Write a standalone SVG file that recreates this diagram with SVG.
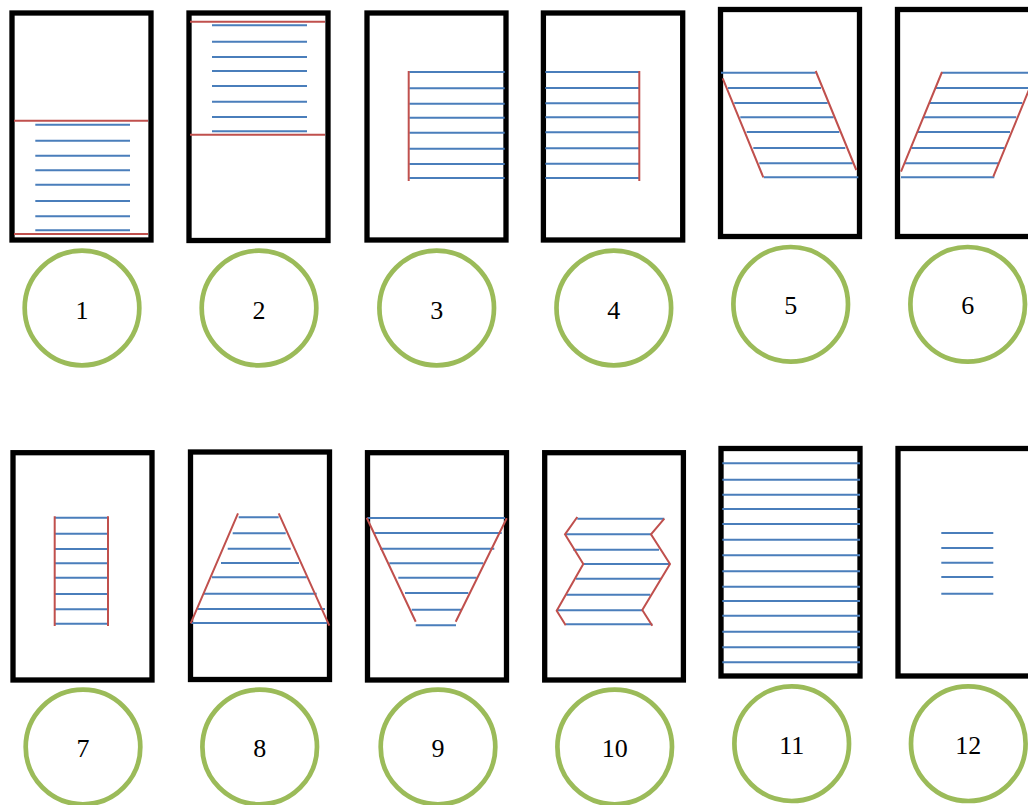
<svg xmlns="http://www.w3.org/2000/svg" width="1028" height="805" viewBox="0 0 1028 805">
<style>
.frame{fill:none;stroke:#000;stroke-width:5.3}
.b{stroke:#4a7ebb;stroke-width:2;fill:none}
.r{stroke:#c0504d;stroke-width:2;fill:none}
.c{fill:none;stroke:#9bbb59;stroke-width:4.7}
.t{font-family:"Liberation Serif","Times New Roman",serif;font-size:26px;text-anchor:middle;fill:#000}
</style>
<rect width="1028" height="805" fill="#fff"/>
<g id="connectors"/>

<g id="node-1">
<rect class="frame" x="12" y="13" width="139" height="227"/>
<path class="b" d="M35.3 124.7H130M35.3 140.7H130M35.3 155.7H130M35.3 170.3H130M35.3 184.7H130M35.3 201H130M35.3 216.3H130M35.3 230.3H130"/>
<path class="r" d="M14 120.7H148M14 234H148"/>
<circle class="c" cx="82" cy="308" r="57.3"/>
<text class="t" x="82" y="319">1</text>
</g>

<g id="node-2">
<rect class="frame" x="189" y="13" width="139" height="227.5"/>
<path class="b" d="M212 25.3H307M212 41.7H307M212 57H307M212 71H307M212 86H307M212 101.7H307M212 117H307M212 131.3H307"/>
<path class="r" d="M190 21.7H325M190 134.7H325"/>
<circle class="c" cx="259" cy="308" r="57.3"/>
<text class="t" x="259" y="319">2</text>
</g>

<g id="node-3">
<rect class="frame" x="367" y="13" width="139" height="227"/>
<path class="b" d="M409.3 72H504.7M409.3 88.3H504.7M409.3 103.7H504.7M409.3 117.7H504.7M409.3 132.7H504.7M409.3 148.7H504.7M409.3 164H504.7M409.3 178H504.7"/>
<path class="r" d="M408.7 71V181"/>
<circle class="c" cx="436.7" cy="308" r="57.3"/>
<text class="t" x="436.7" y="319">3</text>
</g>

<g id="node-4">
<rect class="frame" x="543.4" y="13" width="139.3" height="227"/>
<path class="b" d="M545.3 72H639M545.3 88H639M545.3 103.3H639M545.3 117.3H639M545.3 132.3H639M545.3 148.3H639M545.3 163.7H639M545.3 178H639"/>
<path class="r" d="M639.3 71V181"/>
<circle class="c" cx="613.8" cy="308" r="57.3"/>
<text class="t" x="613.8" y="319">4</text>
</g>

<g id="node-5">
<rect class="frame" x="720.5" y="9.5" width="139" height="227"/>
<path class="b" d="M721 72.7H815.7M728 88H821M734.3 103H827.7M740.3 117.3H833.7M746.7 132H839.3M753.3 148H845.3M759.3 163.3H852.7M763.7 177.3H858.3"/>
<path class="r" d="M722.7 78.3L763.3 177.3M815.7 71L856.3 170"/>
<circle class="c" cx="790.7" cy="304.3" r="57.3"/>
<text class="t" x="790.7" y="314.3">5</text>
</g>

<g id="node-6">
<rect class="frame" x="897.5" y="9.5" width="139" height="227"/>
<path class="b" d="M941.7 72.7H1035M936 88H1029M930 103H1022.3M924 117.3H1016.3M918 132H1010M911.3 148H1004M905 163.3H998.3M901 177.3H994.3"/>
<path class="r" d="M942 72L901 171.7M1036.3 72L993.3 176.7"/>
<circle class="c" cx="967.7" cy="304.3" r="57.3"/>
<text class="t" x="967.7" y="314.3">6</text>
</g>

<g id="node-7">
<rect class="frame" x="13" y="452.7" width="139" height="227.3"/>
<path class="b" d="M54.7 517.7H108M54.7 533.7H108M54.7 549H108M54.7 563.3H108M54.7 577.7H108M54.7 594H108M54.7 609.3H108M54.7 623.7H108"/>
<path class="r" d="M54.7 516.3V626M108 516.3V626"/>
<circle class="c" cx="83" cy="747" r="57.3"/>
<text class="t" x="83" y="757.3">7</text>
</g>

<g id="node-8">
<rect class="frame" x="190.5" y="452" width="139" height="227.5"/>
<path class="b" d="M238.7 517.3H278.7M232.7 533.3H285.7M227.7 548.7H290.7M221 563H299M212 577.3H306.7M203.3 593.7H316.7M197.3 609H325M191.3 623H327.3"/>
<path class="r" d="M238 513.3L190.7 623.3M278.7 513.3L329.3 625.7"/>
<circle class="c" cx="259.7" cy="747" r="57.3"/>
<text class="t" x="259.7" y="757.3">8</text>
</g>

<g id="node-9">
<rect class="frame" x="367.5" y="452.7" width="139" height="227.3"/>
<path class="b" d="M367.3 518H505M374.3 533H501.7M380 548.7H494.3M389.3 563.3H483.3M398.3 577.7H476.7M405 593H468.3M411.7 609.7H461M415.7 625.3H456"/>
<path class="r" d="M366.7 517.7L415.7 621.7M506.7 518.3L455.7 621.7"/>
<circle class="c" cx="438" cy="747" r="57.3"/>
<text class="t" x="438" y="757.3">9</text>
</g>

<g id="node-10">
<rect class="frame" x="544.7" y="452.7" width="138.7" height="227.3"/>
<path class="b" d="M577.3 518.7H664.3M565 534.3H651M573.3 549.7H659M583.3 564H670M576 578.7H661M566.3 594.7H650.3M556.7 610.3H642.3M565.7 624.3H652.3"/>
<path class="r" d="M577.3 517L565 534.3L583.3 564L556.7 610.7L565.7 625.3M664.3 518.7L651 534.3L670 564L642.3 610L652.3 625.7"/>
<circle class="c" cx="614.7" cy="747" r="57.3"/>
<text class="t" x="614.7" y="757.3">10</text>
</g>

<g id="node-11">
<rect class="frame" x="721" y="448.5" width="139" height="227.5"/>
<path class="b" d="M722.3 463.3H860M722.3 479.7H860M722.3 494.7H860M722.3 509H860M722.3 524H860M722.3 539.7H860M722.3 555.3H860M722.3 571.3H860M722.3 586.7H860M722.3 601H860M722.3 615.7H860M722.3 631.7H860M722.3 647.3H860M722.3 662.3H860"/>
<circle class="c" cx="791.7" cy="743.7" r="57.3"/>
<text class="t" x="791.7" y="754">11</text>
</g>

<g id="node-12">
<rect class="frame" x="898" y="448.5" width="139" height="227.5"/>
<path class="b" d="M941.3 533H993.3M941.3 548H993.3M941.3 562.7H993.3M941.3 577H993.3M941.3 593.7H993.3"/>
<circle class="c" cx="968.3" cy="743.7" r="57.3"/>
<text class="t" x="968.3" y="754">12</text>
</g>
</svg>
